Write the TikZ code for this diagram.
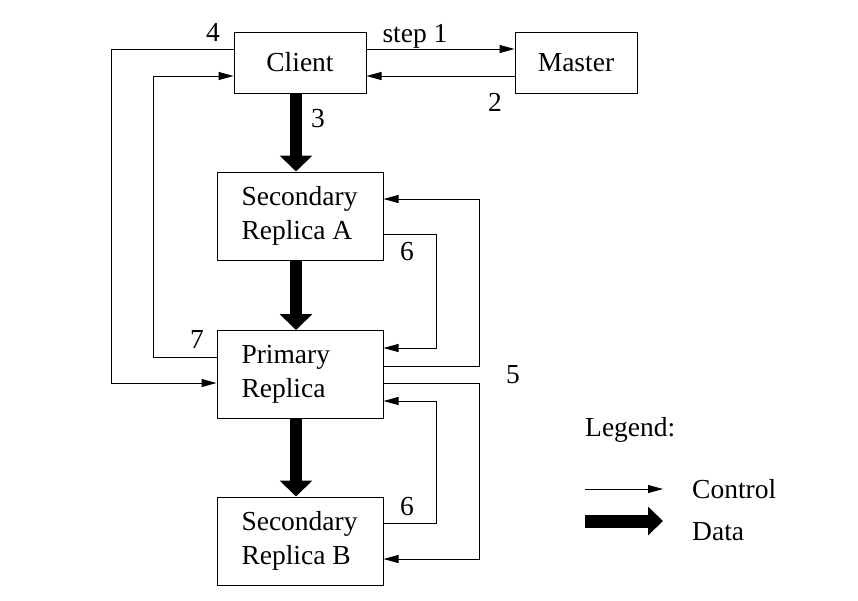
\documentclass[tikz,border=0pt]{standalone}
\usepackage{fontspec}
\setmainfont{Liberation Serif}
\usetikzlibrary{positioning,calc,arrows.meta}
\tikzset{
  box/.style={draw,line width=1pt,minimum height=61pt,inner sep=0pt},
  replica/.style={box,minimum width=166pt,minimum height=88pt,text width=117pt,align=flush left},
  ctrl/.style={line width=1pt,-{Triangle[length=15pt,width=8pt]}},
  data/.style={line width=12pt,-{Triangle[length=16pt,width=32pt]}},
  lbl/.style={inner sep=0pt,anchor=base},
}

\begin{document}
\begin{tikzpicture}[x=1pt,y=-1pt,font=\fontsize{27.5}{34}\selectfont]
\useasboundingbox (0,0) rectangle (858,600);
% Draw the boxes
\node[box,minimum width=132pt] (client) at (300,62.5) {Client};
\node[box,minimum width=122pt] (master) at (576,62.5) {Master};
\node[replica] (secA) at (300,216) {Secondary\\Replica A};
\node[replica] (primary) at (300,374.5) {Primary\\Replica};
\node[replica] (secB) at (300,541) {Secondary\\Replica B};

% Client and master
\draw[ctrl] ([yshift=13.5]client.east) -- ([yshift=13.5]master.west);
\draw[ctrl] ([yshift=-13.5]master.west) -- ([yshift=-13.5]client.east);
\node[lbl] (step1) at (415,42) {step 1};
\node[lbl] (two) at (495,111) {2};

% Data flow down the chain
\draw[data] ([xshift=-4]client.south) -- ([xshift=-4]secA.north);
\draw[data] ([xshift=-4]secA.south) -- ([xshift=-4]primary.north);
\draw[data] ([xshift=-4]primary.south) -- ([xshift=-4]secB.north);
\node[lbl] (three) at (318,127) {3};

% Client to primary and back
\draw[ctrl] ([yshift=13.5]client.west) -- ++(-122,0) |- ([yshift=-8.5]primary.west);
\draw[ctrl] ([yshift=17.5]primary.west) -- ++(-63,0) |- ([yshift=-13.5]client.west);
\node[lbl] (four) at (213,41) {4};
\node[lbl] (seven) at (197,348) {7};

% Primary to secondaries and back
\draw[ctrl] ([yshift=8.5]primary.east) -- ++(96,0) |- ([yshift=17]secA.east);
\draw[ctrl] ([yshift=-8.5]primary.east) -- ++(96,0) |- ([yshift=-18]secB.east);
\draw[ctrl] ([yshift=-18]secA.east) -- ++(53,0) |- ([yshift=26.5]primary.east);
\draw[ctrl] ([yshift=18]secB.east) -- ++(53,0) |- ([yshift=-26.5]primary.east);
\node[lbl] (five) at (513,383) {5};
\node[lbl] (sixA) at (407,260) {6};
\node[lbl] (sixB) at (407,515) {6};

% Legend
\node[lbl,anchor=base west] (legend) at (585,436) {Legend:};
\coordinate (ctrlS) at (585,489);
\coordinate (ctrlE) at (663,489);
\coordinate (dataS) at (585,521);
\coordinate (dataE) at (663,521);
\draw[ctrl] (ctrlS) -- (ctrlE);
\draw[data,line width=13pt,-{Triangle[length=15pt,width=28pt]}] (dataS) -- (dataE);
\node[lbl,anchor=base west] (control) at (692,498) {Control};
\node[lbl,anchor=base west] (datatxt) at (692,540) {Data};
\end{tikzpicture}
\end{document}
